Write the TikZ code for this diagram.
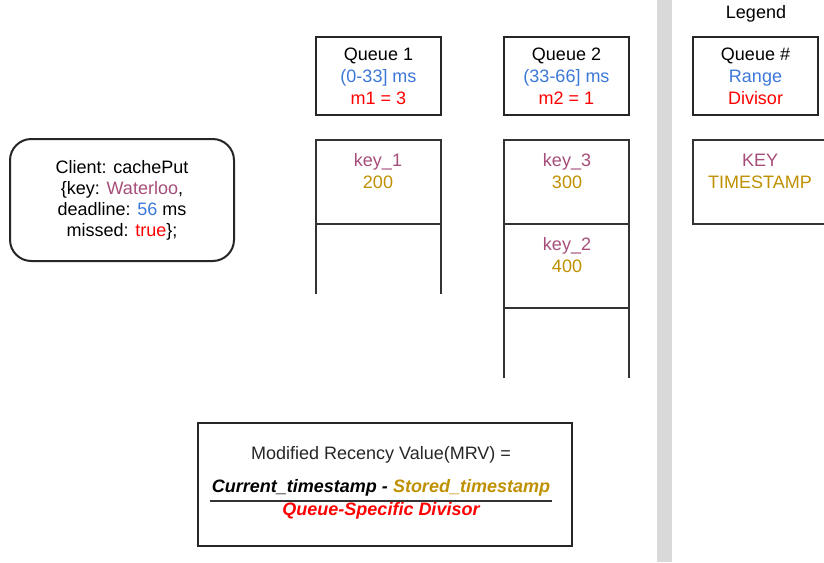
\documentclass[tikz,border=0pt]{standalone}
\usepackage{fontspec}
\setmainfont{Liberation Sans}
\definecolor{keyc}{HTML}{A64D79}
\definecolor{rangec}{HTML}{3C78D8}
\definecolor{divc}{HTML}{FF0000}
\definecolor{tsc}{HTML}{BF9000}
\definecolor{barc}{HTML}{D9D9D9}
\begin{document}
\begin{tikzpicture}[x=0.75pt,y=-0.75pt,
  txt/.style={font=\fontsize{13.5}{16.5}\selectfont, align=center, inner sep=0pt},
  qbox/.style={draw=black!85, line width=1.5pt, minimum width=125*0.75pt, minimum height=78*0.75pt, inner sep=0pt, txt},
  cell/.style={draw=black!80, line width=0.8pt},
]
\useasboundingbox (0,0) rectangle (824,562);
% separator bar
\fill[barc] (657,0) rectangle (672,562);

% legend
\node[txt] (legend) at (756,14) {Legend};
\node[qbox] (legq) at (755.5,76) {Queue \#\\\textcolor{rangec}{Range}\\\textcolor{divc}{Divisor}};
\begin{scope}
\clip (680,130) rectangle (824,240);
\draw[cell] (827,140) -- (693,140) -- (693,224) -- (827,224);
\end{scope}
\node[txt] (legk) at (760,171) {\textcolor{keyc}{KEY}\\\textcolor{tsc}{TIMESTAMP}};

% queue headers
\node[qbox] (q1) at (378.5,76) {Queue 1\\\textcolor{rangec}{(0-33] ms}\\\textcolor{divc}{m1 = 3}};
\node[qbox] (q2) at (566.5,76) {Queue 2\\\textcolor{rangec}{(33-66] ms}\\\textcolor{divc}{m2 = 1}};

% queue 1 cells
\draw[cell] (316,294) -- (316,140) -- (441,140) -- (441,294);
\draw[cell] (316,224) -- (441,224);
\node[txt] (k1) at (378,171) {\textcolor{keyc}{key\_1}\\\textcolor{tsc}{200}};

% queue 2 cells
\draw[cell] (504,378) -- (504,140) -- (629,140) -- (629,378);
\draw[cell] (504,224) -- (629,224);
\draw[cell] (504,308) -- (629,308);
\node[txt] (k3) at (567,171) {\textcolor{keyc}{key\_3}\\\textcolor{tsc}{300}};
\node[txt] (k2) at (567,255.5) {\textcolor{keyc}{key\_2}\\\textcolor{tsc}{400}};

% client box
\node[draw=black!85, line width=1.5pt, rounded corners=16pt, minimum width=224*0.75pt, minimum height=122*0.75pt, txt,
  font=\fontsize{13.5}{15.75}\selectfont] (client) at (122,200)
  {Client: cachePut\\\{key: \textcolor{keyc}{Waterloo},\\deadline: \textcolor{rangec}{56} ms\\missed: \textcolor{divc}{true}\};};

% formula box
\node[draw=black!85, line width=1.5pt, minimum width=374*0.75pt, minimum height=123*0.75pt, inner sep=0pt] (fbox) at (385,484.5) {};
\node[txt, text=black!85] (mrv) at (381,455) {Modified Recency Value(MRV) =};
\node[txt] (num) at (381,488) {\bfseries\itshape Current\_timestamp - \textcolor{tsc}{Stored\_timestamp}};
\coordinate (fl) at (210,501);
\coordinate (fr) at (552,501);
\draw[black!80, line width=0.8pt] (fl) -- (fr);
\node[txt] (den) at (381,511) {\bfseries\itshape\textcolor{divc}{Queue-Specific Divisor}};
\end{tikzpicture}
\end{document}
